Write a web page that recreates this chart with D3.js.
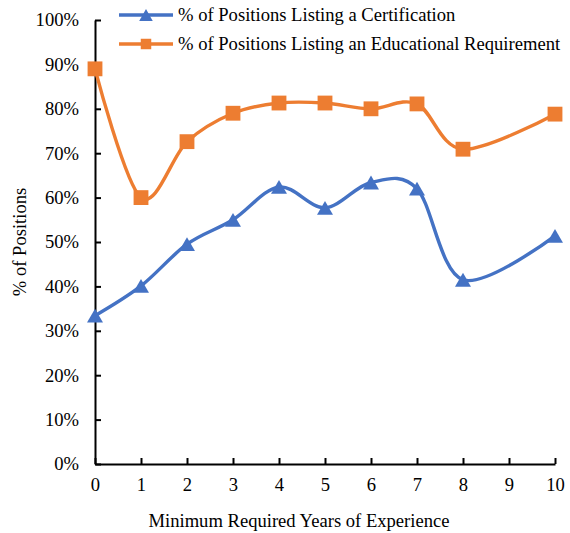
<!DOCTYPE html>
<html>
<head>
<meta charset="utf-8">
<script src="https://cdn.jsdelivr.net/npm/d3@7"></script>
<style>
  html, body { margin: 0; padding: 0; background: #fff; }
  svg { display: block; }
  text { font-family: "Liberation Serif", "Times New Roman", serif; fill: #000; }
</style>
</head>
<body>
<svg id="chart" width="570" height="533"></svg>
<script>
// Minimum required years of experience (no postings at 9 years)
const years = [0, 1, 2, 3, 4, 5, 6, 7, 8, 10];
// Share of positions listing a certification
const certification = [0.334, 0.401, 0.495, 0.550, 0.624, 0.577, 0.634, 0.620, 0.415, 0.514];
// Share of positions listing an educational requirement
const education = [0.890, 0.600, 0.726, 0.790, 0.813, 0.813, 0.800, 0.811, 0.709, 0.788];
const xTicks = [0, 1, 2, 3, 4, 5, 6, 7, 8, 9, 10];
const yTicks = [0, 0.1, 0.2, 0.3, 0.4, 0.5, 0.6, 0.7, 0.8, 0.9, 1.0];
const seriesNames = [
  "% of Positions Listing a Certification",
  "% of Positions Listing an Educational Requirement"
];

const svg = d3.select("#chart");
const margin = { left: 95, right: 15, top: 20, bottom: 69 };
const W = 570, H = 533;

const x = d3.scaleLinear().domain([0, 10]).range([margin.left, W - margin.right]);
const y = d3.scaleLinear().domain([0, 1]).range([H - margin.bottom, margin.top]);

const fontSize = 18.6;

// Axes: ticks point inward
const xAxis = svg.append("g")
  .attr("transform", `translate(0,${y(0)})`)
  .call(d3.axisBottom(x).tickValues(xTicks).tickSizeInner(-6).tickSizeOuter(0).tickPadding(14).tickFormat(d3.format("d")));
const yAxis = svg.append("g")
  .attr("transform", `translate(${x(0)},0)`)
  .call(d3.axisLeft(y).tickValues(yTicks).tickSizeInner(-6).tickSizeOuter(0).tickPadding(16).tickFormat(d3.format(".0%")));

[xAxis, yAxis].forEach(g => {
  g.selectAll("path.domain").attr("stroke", "#000").attr("stroke-width", 2);
  g.selectAll(".tick line").attr("stroke", "#000").attr("stroke-width", 2);
  g.selectAll("text").attr("font-size", fontSize)
    .attr("font-family", "Liberation Serif, Times New Roman, serif").attr("fill", "#000");
});

// Axis titles
svg.append("text")
  .attr("x", 299)
  .attr("y", 527)
  .attr("text-anchor", "middle")
  .attr("font-size", fontSize)
  .text("Minimum Required Years of Experience");
svg.append("text")
  .attr("transform", `translate(26,${(y(0) + y(1)) / 2}) rotate(-90)`)
  .attr("text-anchor", "middle")
  .attr("font-size", fontSize)
  .text("% of Positions");

const colors = ["#4472C4", "#ED7D31"];
const line = d3.line()
  .x(d => x(d[0]))
  .y(d => y(d[1]))
  .curve(d3.curveCardinal.tension(0));

const series = [certification, education];
const plot = svg.append("g");

series.forEach((vals, i) => {
  const pts = years.map((yr, j) => [yr, vals[j]]);
  plot.append("path")
    .datum(pts)
    .attr("fill", "none")
    .attr("stroke", colors[i])
    .attr("stroke-width", 3.4)
    .attr("d", line);
});

const triangle = d3.symbol().type(d3.symbolTriangle);
const square = d3.symbol().type(d3.symbolSquare);

// Triangles are shifted so their bounding box (not centroid) sits on the point
function drawMarker(g, kind, cx, cy, size, color) {
  const gen = kind === 0 ? triangle.size(size) : square.size(size);
  let dy = 0;
  if (kind === 0) {
    const side = Math.sqrt(size / (Math.sqrt(3) / 4));
    dy = (side * Math.sqrt(3) / 2) / 6;
  }
  g.append("path")
    .attr("d", gen())
    .attr("transform", `translate(${cx},${cy + dy})`)
    .attr("fill", color);
}

series.forEach((vals, i) => {
  years.forEach((yr, j) => {
    drawMarker(plot, i, x(yr), y(vals[j]), i === 0 ? 110 : 220, colors[i]);
  });
});

// Legend
const legend = svg.append("g");
seriesNames.forEach((name, i) => {
  const ly = 15 + i * 29;
  legend.append("line")
    .attr("x1", 119).attr("x2", 173)
    .attr("y1", ly).attr("y2", ly)
    .attr("stroke", colors[i]).attr("stroke-width", 3.4);
  drawMarker(legend, i, 146, ly, i === 0 ? 80 : 110, colors[i]);
  legend.append("text")
    .attr("x", 178).attr("y", ly + 6)
    .attr("font-size", fontSize)
    .text(name);
});
</script>
</body>
</html>
